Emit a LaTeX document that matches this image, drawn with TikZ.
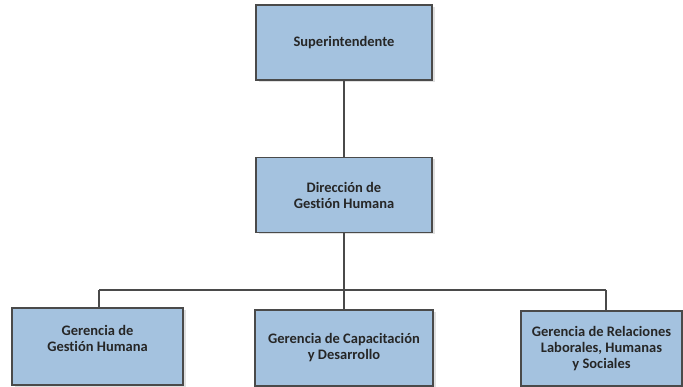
\documentclass[tikz,border=0pt]{standalone}
\usepackage{fontspec}
\setmainfont{Carlito}[Ligatures={NoCommon}]
\usetikzlibrary{shadows}
\definecolor{boxblue}{HTML}{A4C2DF}
\definecolor{boxline}{HTML}{4A4A4A}
\begin{document}
\begin{tikzpicture}[x=1pt, y=-1pt,
	unit/.style={draw=boxline, line width=1.3pt, fill=boxblue, inner sep=0pt,
		drop shadow={shadow xshift=2.5pt, shadow yshift=-2pt, fill=black!20, opacity=0.6}},
	title/.style={align=center, font=\fontsize{14.5}{16}\selectfont\bfseries, text=black!85},
	link/.style={draw=boxline, line width=1.1pt}]
	\useasboundingbox (0,0) rectangle (683,387);
	
	\node[unit, title, minimum width=176pt, minimum height=75pt] (sup) at (344,42.5) {Superintendente};
	\node[unit, title, minimum width=176pt, minimum height=75pt] (dir) at (344,195) {Direcci\'on de\\Gesti\'on Humana};
	
	\node[unit, minimum width=171pt, minimum height=77pt] (g1) at (97.5,346.5) {};
	\node[title] (g1txt) at (97.5,338) {Gerencia de\\Gesti\'on Humana};
	\node[unit, title, minimum width=178pt, minimum height=76pt] (g2) at (344,348) {Gerencia de Capacitaci\'on\\y Desarrollo};
	\node[unit, title, minimum width=161pt, minimum height=75pt] (g3) at (601.5,348.5) {Gerencia de Relaciones\\Laborales, Humanas\\y Sociales};
	
	\coordinate (busL) at (99,290);
	\coordinate (busR) at (606,290);
	
	\path[link] (sup.south) -- (dir.north);
	\path[link] (dir.south) -- (dir.south |- busL);
	\path[link] (busL) -- (busR);
	\path[link] (busL) -- (busL |- g1.north);
	\path[link] (dir.south |- busL) -- (g2.north);
	\path[link] (busR) -- (busR |- g3.north);
\end{tikzpicture}
\end{document}
